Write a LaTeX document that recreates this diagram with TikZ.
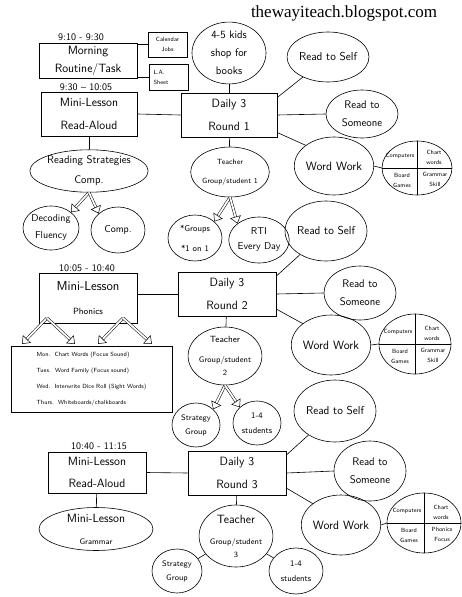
\documentclass[tikz,border=0pt]{standalone}
\usepackage{fontspec}
\newfontfamily\blogfont{Liberation Serif}
\usepackage{tikz}
\usetikzlibrary{shapes.geometric,arrows.meta}

\newcommand\hand[2]{\sffamily\fontsize{#1}{#2}\selectfont}

\begin{document}
\begin{tikzpicture}[x=1pt,y=-1pt,
  box/.style={draw, line width=0.8pt, align=center, inner sep=0pt},
  oval/.style={draw, ellipse, line width=0.6pt, align=center, inner sep=0pt},
  link/.style={line width=0.6pt},
  dblarrow/.style={double, double distance=1.8pt, line width=0.5pt,
    -{Triangle[open,length=7pt,width=11pt]}},
  time/.style={font=\hand{10}{12}}]
\fill[white] (0,0) rectangle (462,597);
\useasboundingbox (0,0) rectangle (462,597);

\node[font=\blogfont\fontsize{17}{20}\selectfont] (blog) at (344,13) {thewayiteach.blogspot.com};

% round 1
\node[time] (t910) at (81,37) {9:10 - 9:30};
\node[box, minimum width=98, minimum height=35, font=\hand{12}{18}] (mr) at (88,60.5) {Morning\\Routine/Task};
\node[box, minimum width=39, minimum height=25, font=\hand{6}{10}] (cal) at (167.5,44.5) {Calendar\\Jobs};
\node[box, minimum width=39, minimum height=26, font=\hand{6}{10}, align=left, text width=30] (la) at (168.5,77) {L.A.\\Sheet};
\node[time] (t930) at (86,87) {9:30 -- 10:05};
\node[box, minimum width=96, minimum height=44, font=\hand{12}{23}] (ml1) at (89,114) {Mini-Lesson\\Read-Aloud};
\node[box, minimum width=96, minimum height=44, font=\hand{12}{23}] (d1) at (229,115) {Daily 3\\Round 1};
\node[oval, minimum width=74, minimum height=56, font=\hand{11}{18}] (kids) at (229,53) {4-5 kids\\shop for\\books};
\node[oval, minimum width=74, minimum height=50, font=\hand{11.5}{14}] (rs1) at (328,57) {Read to Self};
\node[oval, minimum width=72, minimum height=48, font=\hand{11}{18}] (rso1) at (362,114) {Read to\\Someone};
\node[oval, minimum width=72, minimum height=58, font=\hand{12}{14}] (ww1) at (334,166) {Word Work};
\node[oval, minimum width=70, minimum height=54] (q1) at (417,168) {};
\node[oval, minimum width=114, minimum height=42, font=\hand{11}{20}] (rsc) at (89,171) {Reading Strategies\\Comp.};
\node[oval, minimum width=56, minimum height=44, font=\hand{10}{17}] (dec) at (51,228) {Decoding\\Fluency};
\node[oval, minimum width=54, minimum height=46, font=\hand{10}{17}] (comp) at (118,230) {Comp.};
\node[oval, minimum width=74, minimum height=50, font=\hand{7.5}{19}] (t1) at (230,172) {Teacher\\Group/student 1};
\node[oval, minimum width=54, minimum height=46, font=\hand{8.5}{20}] (grp) at (195,238) {*Groups\\*1 on 1};
\node[oval, minimum width=54, minimum height=46, font=\hand{10}{15}] (rti) at (259,240) {RTI\\Every Day};

\draw[link] (cal.west) -- (cal.west -| mr.east);
\draw[link] (la.west) -- (la.west -| mr.east);
\draw[link] (ml1.east) -- (d1.west);
\draw[link] (kids) -- (d1);
\draw[link] (d1.20) -- (rs1);
\draw[link] (d1.east) -- (rso1.west);
\draw[link] (d1.-20) -- (ww1.north west);
\draw[link] (ml1) -- (rsc);
\draw[link] (d1) -- (t1);
\draw[dblarrow] (rsc.south) -- (dec.north east);
\draw[dblarrow] (rsc.south) -- (comp.north west);
\draw[dblarrow] (t1.south) -- (grp.north east);
\draw[dblarrow] (t1.south) -- (rti.north west);

% round 2
\node[time] (t1005) at (87,268) {10:05 - 10:40};
\node[box, minimum width=98, minimum height=50, font=\hand{13}{24}] (ml2) at (88,298) {Mini-Lesson\\{\fontsize{9}{24}\selectfont Phonics}};
\node[box, minimum width=98, minimum height=44, font=\hand{12}{23}] (d2) at (227,294) {Daily 3\\Round 2};
\node[box, minimum width=161, minimum height=66, font=\hand{6}{16.3}, align=left] (sched) at (91.5,379)
  {Mon.\ \ Chart Words (Focus Sound)\\Tues.\ \ Word Family (Focus sound)\\Wed.\ \ Interwrite Dice Roll (Sight Words)\\Thurs.\ \ Whiteboards/chalkboards};
\node[oval, minimum width=72, minimum height=60, font=\hand{11.5}{14}] (rs2) at (326,231) {Read to Self};
\node[oval, minimum width=72, minimum height=54, font=\hand{11}{18}] (rso2) at (360,293) {Read to\\Someone};
\node[oval, minimum width=72, minimum height=60, font=\hand{12}{14}] (ww2) at (331,345) {Word Work};
\node[oval, minimum width=72, minimum height=60] (q2) at (415,344) {};
\node[oval, minimum width=70, minimum height=58, font=\hand{8}{13}] (t2) at (225,356) {{\fontsize{9}{13}\selectfont Teacher}\\[7pt]Group/student\\2};
\node[oval, minimum width=48, minimum height=44, font=\hand{8}{14}] (sg2) at (196,425) {Strategy\\Group};
\node[oval, minimum width=48, minimum height=44, font=\hand{8.5}{15}] (st2) at (257,423) {1-4\\students};

\coordinate (pl) at (47,318);
\coordinate (pr) at (123,318);
\draw[link] (d2.west) -- (d2.west -| ml2.east);
\draw[link] (d2.20) -- (rs2);
\draw[link] (d2.east) -- (rso2.west);
\draw[link] (d2.-17) -- (ww2.north west);
\draw[link] (d2) -- (t2);
\draw[dblarrow] (pl) -- (22,344);
\draw[dblarrow] (pl) -- (75,344);
\draw[dblarrow] (pr) -- (98,344);
\draw[dblarrow] (pr) -- (152,344);
\draw[dblarrow] (t2.south) -- (sg2.north east);
\draw[dblarrow] (t2.south) -- (st2.north west);

% round 3
\node[time] (t1040) at (99,446) {10:40 - 11:15};
\node[box, minimum width=98, minimum height=41, font=\hand{12}{22}] (ml3) at (97,472.5) {Mini-Lesson\\Read-Aloud};
\node[box, minimum width=98, minimum height=44, font=\hand{12}{23}] (d3) at (237,473) {Daily 3\\Round 3};
\node[oval, minimum width=114, minimum height=40, font=\hand{12}{22}] (gram) at (96,529) {Mini-Lesson\\{\fontsize{8}{22}\selectfont Grammar}};
\node[oval, minimum width=74, minimum height=62, font=\hand{11.5}{14}] (rs3) at (335,411) {Read to Self};
\node[oval, minimum width=72, minimum height=60, font=\hand{11}{18}] (rso3) at (370,471) {Read to\\Someone};
\node[oval, minimum width=72, minimum height=60, font=\hand{12}{14}] (ww3) at (341,525) {Word Work};
\node[oval, minimum width=74, minimum height=60] (q3) at (424,523) {};
\node[oval, minimum width=72, minimum height=62, font=\hand{8}{13}] (t3) at (236,536) {{\fontsize{12}{13}\selectfont Teacher}\\[8pt]Group/student\\3};
\node[oval, minimum width=50, minimum height=44, font=\hand{8}{14}] (sg3) at (177,571) {Strategy\\Group};
\node[oval, minimum width=54, minimum height=46, font=\hand{8.5}{15}] (st3) at (296,571) {1-4\\students};

\draw[link] (ml3.east) -- (d3.west);
\draw[link] (ml3) -- (gram);
\draw[link] (d3.20) -- (rs3);
\draw[link] (d3.east) -- (rso3.west);
\draw[link] (d3.-17) -- (ww3.north west);
\draw[link] (d3) -- (t3);
\draw[link] (t3) -- (sg3);
\draw[link] (t3) -- (st3);

% word work centres
\foreach \q/\w/\last in {q1/ww1/{Grammar\\Skill}, q2/ww2/{Grammar\\Skill}, q3/ww3/{Phonics\\Focus}} {
  \draw[link] (\w.east) -- (\q.west);
  \draw[link] (\q.west) -- (\q.east);
  \draw[link] (\q.north) -- (\q.south);
  \node[font=\hand{6}{10}] (\q a) at ([shift={(-17,-12)}]\q.center) {Computers};
  \node[font=\hand{6}{10}, align=center] (\q b) at ([shift={(17,-11)}]\q.center) {Chart\\words};
  \node[font=\hand{6}{10}, align=center] (\q c) at ([shift={(-15,12)}]\q.center) {Board\\Games};
  \node[font=\hand{6}{10}, align=center] (\q d) at ([shift={(18,11)}]\q.center) {\last};
}
\end{tikzpicture}
\end{document}
